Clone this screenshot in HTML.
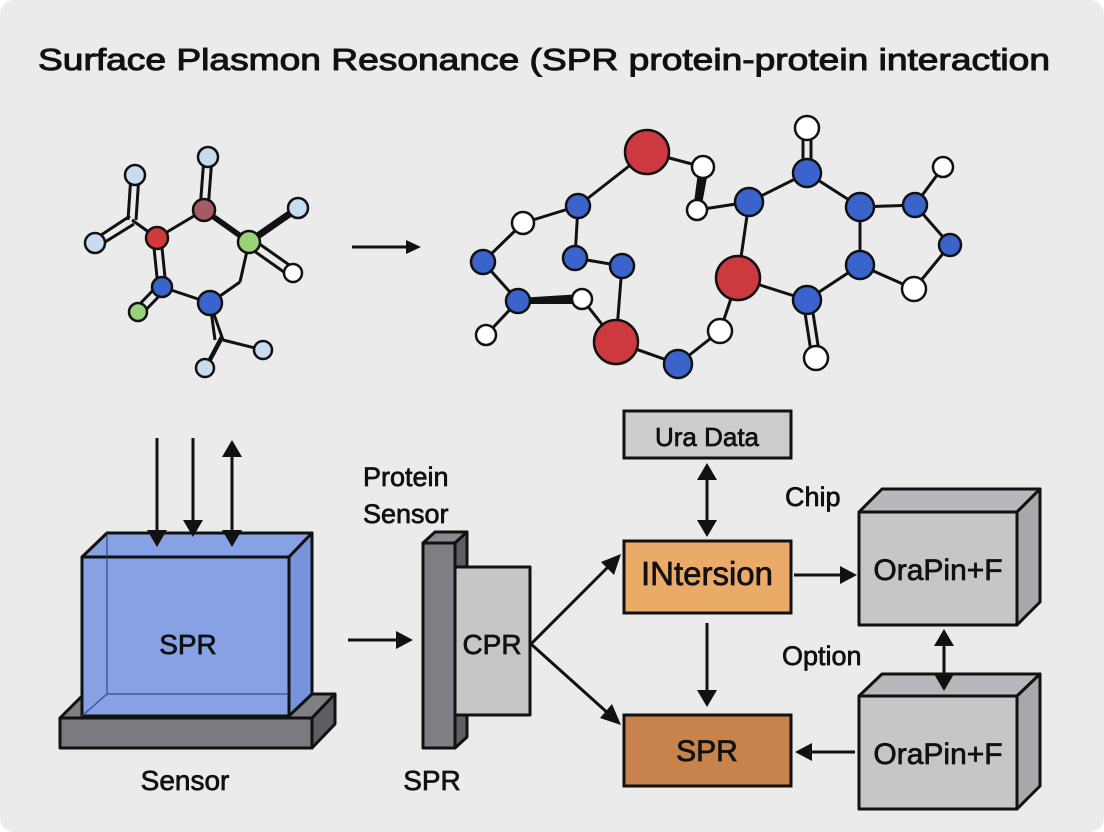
<!DOCTYPE html>
<html><head><meta charset="utf-8"><style>
html,body{margin:0;padding:0;background:#fff}
svg{display:block}
text{font-family:"Liberation Sans",sans-serif;fill:#111;stroke:#111;stroke-width:0.7px}
</style></head><body>
<svg width="1104" height="832" viewBox="0 0 1104 832" xmlns="http://www.w3.org/2000/svg">
<rect x="0" y="0" width="1104" height="832" rx="14" fill="#ebebeb"/>
<text x="38" y="70" font-size="31" style="stroke-width:1px" textLength="1012" lengthAdjust="spacingAndGlyphs">Surface Plasmon Resonance (SPR protein-protein interaction</text>

<!-- left molecule -->
<g stroke="#111" stroke-width="3" fill="none">
<line x1="204" y1="157" x2="200" y2="210"/><line x1="212" y1="157" x2="208" y2="210"/>
<line x1="131" y1="175" x2="128" y2="220"/><line x1="139" y1="175" x2="136" y2="220"/>
<line x1="95" y1="239" x2="130" y2="216"/><line x1="97" y1="247" x2="134" y2="224"/>
<line x1="132" y1="220" x2="157" y2="238"/>
<line x1="157" y1="238" x2="204" y2="210"/>
<line x1="202" y1="207" x2="247" y2="239"/><line x1="206" y1="213" x2="251" y2="245"/>
<line x1="249" y1="242" x2="298" y2="208" stroke-width="7"/>
<line x1="247" y1="246" x2="291" y2="277"/><line x1="251" y1="238" x2="295" y2="269"/>
<line x1="249" y1="242" x2="240" y2="282"/><line x1="240" y1="282" x2="210" y2="303"/>
<line x1="153" y1="238" x2="158" y2="287"/><line x1="161" y1="238" x2="166" y2="287"/>
<line x1="159" y1="284" x2="135" y2="309"/><line x1="165" y1="290" x2="141" y2="315"/>
<line x1="162" y1="287" x2="210" y2="303"/>
<line x1="210" y1="303" x2="223" y2="340"/><line x1="210" y1="303" x2="215" y2="340"/>
<line x1="223" y1="340" x2="263" y2="350"/>
</g>
<polygon points="223,340 220,336 203,368 208,368" fill="#111"/>
<g stroke="#111" stroke-width="2.5">
<circle cx="208" cy="157" r="10" fill="#c8dcf0"/>
<circle cx="135" cy="175" r="10" fill="#c8dcf0"/>
<circle cx="95" cy="243" r="10" fill="#c8dcf0"/>
<circle cx="298" cy="208" r="10" fill="#c8dcf0"/>
<circle cx="293" cy="273" r="9" fill="#fff"/>
<circle cx="204" cy="210" r="11" fill="#a85a64"/>
<circle cx="157" cy="238" r="11" fill="#d03a3a"/>
<circle cx="249" cy="242" r="11" fill="#9ad27a"/>
<circle cx="162" cy="287" r="10" fill="#3a64cc"/>
<circle cx="138" cy="312" r="9" fill="#9ad27a"/>
<circle cx="210" cy="303" r="12" fill="#3a64cc"/>
<circle cx="263" cy="350" r="9" fill="#c8dcf0"/>
<circle cx="205" cy="368" r="9" fill="#c8dcf0"/>
</g>

<line x1="352" y1="247" x2="408" y2="247" stroke="#111" stroke-width="3"/>
<polygon points="406,240 421,247 406,254" fill="#111"/>

<!-- right molecule -->
<g stroke="#111" stroke-width="3" fill="none">
<line x1="647" y1="152" x2="578" y2="206"/>
<line x1="647" y1="152" x2="703" y2="167"/>
<line x1="697" y1="210" x2="749" y2="202"/>
<line x1="578" y1="206" x2="523" y2="223"/>
<line x1="523" y1="223" x2="483" y2="262"/>
<line x1="483" y1="262" x2="518" y2="301"/>
<line x1="518" y1="301" x2="486" y2="335"/>
<line x1="582" y1="299" x2="616" y2="342"/>
<line x1="578" y1="206" x2="575" y2="258"/>
<line x1="575" y1="258" x2="622" y2="266"/>
<line x1="622" y1="266" x2="616" y2="342"/>
<line x1="616" y1="342" x2="678" y2="364"/>
<line x1="678" y1="364" x2="720" y2="331"/>
<line x1="720" y1="331" x2="738" y2="278"/>
<line x1="738" y1="278" x2="749" y2="202"/>
<line x1="738" y1="278" x2="807" y2="300"/>
<line x1="749" y1="202" x2="807" y2="173"/>
<line x1="803" y1="128" x2="803" y2="173"/><line x1="811" y1="128" x2="811" y2="173"/>
<line x1="807" y1="173" x2="860" y2="207"/>
<line x1="860" y1="207" x2="915" y2="205"/>
<line x1="915" y1="205" x2="943" y2="167"/>
<line x1="915" y1="205" x2="950" y2="245"/>
<line x1="950" y1="245" x2="914" y2="289"/>
<line x1="914" y1="289" x2="860" y2="265"/>
<line x1="860" y1="207" x2="860" y2="265"/>
<line x1="860" y1="265" x2="807" y2="300"/>
<line x1="803" y1="300" x2="812" y2="358"/><line x1="811" y1="300" x2="820" y2="358"/>
</g>
<polygon points="698,172 708,172 701,210 693,210" fill="#111"/>
<polygon points="518,298 582,294 582,304 518,304" fill="#111"/>
<g stroke="#111" stroke-width="2.5">
<circle cx="647" cy="152" r="22" fill="#cc3a40"/>
<circle cx="703" cy="167" r="11" fill="#fff"/>
<circle cx="697" cy="210" r="10" fill="#fff"/>
<circle cx="578" cy="206" r="12" fill="#3a64cc"/>
<circle cx="523" cy="223" r="11" fill="#fff"/>
<circle cx="483" cy="262" r="12" fill="#3a64cc"/>
<circle cx="575" cy="258" r="12" fill="#3a64cc"/>
<circle cx="622" cy="266" r="12" fill="#3a64cc"/>
<circle cx="518" cy="301" r="12" fill="#3a64cc"/>
<circle cx="582" cy="299" r="10" fill="#fff"/>
<circle cx="486" cy="335" r="10" fill="#fff"/>
<circle cx="616" cy="342" r="22" fill="#cc3a40"/>
<circle cx="678" cy="364" r="14" fill="#3a64cc"/>
<circle cx="720" cy="331" r="12" fill="#fff"/>
<circle cx="738" cy="278" r="22" fill="#cc3a40"/>
<circle cx="749" cy="202" r="14" fill="#3a64cc"/>
<circle cx="807" cy="173" r="14" fill="#3a64cc"/>
<circle cx="807" cy="128" r="12" fill="#fff"/>
<circle cx="860" cy="207" r="14" fill="#3a64cc"/>
<circle cx="915" cy="205" r="12" fill="#3a64cc"/>
<circle cx="943" cy="167" r="10" fill="#fff"/>
<circle cx="950" cy="245" r="11" fill="#3a64cc"/>
<circle cx="914" cy="289" r="12" fill="#fff"/>
<circle cx="860" cy="265" r="14" fill="#3a64cc"/>
<circle cx="807" cy="300" r="14" fill="#3a64cc"/>
<circle cx="816" cy="358" r="12" fill="#fff"/>
</g>

<!-- SPR block -->
<g stroke="#111" stroke-width="3" stroke-linejoin="round">
<polygon points="60,718 84,694 335,694 312,718" fill="#7e7e84"/>
<polygon points="312,718 335,694 335,724 312,748" fill="#5e5e64"/>
<rect x="60" y="718" width="252" height="30" fill="#7a7a80"/>
<polygon points="82,557 107,533 312,533 289,557" fill="#86a2e4"/>
<polygon points="289,557 312,533 312,694 289,716" fill="#7594dc"/>
<rect x="82" y="557" width="207" height="159" fill="#86a2e4"/>
</g>
<g stroke="#2a3c78" stroke-width="1.5" fill="none" opacity="0.7">
<line x1="107" y1="533" x2="107" y2="694"/><line x1="107" y1="694" x2="82" y2="716"/><line x1="107" y1="694" x2="289" y2="694"/>
</g>
<g stroke="#111" stroke-width="3">
<line x1="157" y1="438" x2="157" y2="532"/>
<line x1="193" y1="438" x2="193" y2="522"/>
<line x1="232" y1="455" x2="232" y2="532"/>
</g>
<polygon points="147,530 167,530 157,547" fill="#111"/>
<polygon points="183,520 203,520 193,537" fill="#111"/>
<polygon points="222,530 242,530 232,547" fill="#111"/>
<polygon points="222,457 242,457 232,440" fill="#111"/>
<text x="188" y="654" font-size="28" text-anchor="middle">SPR</text>
<text x="185" y="790" font-size="28" text-anchor="middle">Sensor</text>

<line x1="348" y1="640" x2="398" y2="640" stroke="#111" stroke-width="3"/>
<polygon points="396,631 413,640 396,649" fill="#111"/>

<text x="363" y="486" font-size="27">Protein</text>
<text x="363" y="523" font-size="27">Sensor</text>
<g stroke="#111" stroke-width="3" stroke-linejoin="round">
<polygon points="423,543 435,532 467,532 455,543" fill="#8a8a90"/>
<polygon points="455,543 467,532 467,737 455,748" fill="#5e5e64"/>
<rect x="455" y="567" width="75" height="148" fill="#c6c6c8"/>
<rect x="423" y="543" width="32" height="205" fill="#7e7e84"/>
</g>
<text x="492" y="654" font-size="28" text-anchor="middle">CPR</text>
<text x="432" y="790" font-size="28" text-anchor="middle">SPR</text>

<g stroke="#111" stroke-width="3">
<line x1="531" y1="644" x2="610" y2="565"/>
<line x1="531" y1="644" x2="610" y2="715"/>
</g>
<polygon points="621,554 614,575 601,562" fill="#111"/>
<polygon points="621,725 600,718 612,704" fill="#111"/>

<g stroke="#111" stroke-width="3">
<rect x="624" y="411" width="167" height="47" fill="#cdcdd0"/>
<rect x="624" y="541" width="167" height="72" fill="#eaaa68"/>
<rect x="624" y="715" width="167" height="71" fill="#c8824c"/>
</g>
<text x="707" y="446" font-size="26" text-anchor="middle">Ura Data</text>
<text x="707" y="585" font-size="33" text-anchor="middle">INtersion</text>
<text x="707" y="761" font-size="30" text-anchor="middle">SPR</text>

<line x1="707" y1="478" x2="707" y2="522" stroke="#111" stroke-width="3"/>
<polygon points="697,480 717,480 707,463" fill="#111"/>
<polygon points="697,520 717,520 707,537" fill="#111"/>
<line x1="707" y1="623" x2="707" y2="692" stroke="#111" stroke-width="3"/>
<polygon points="697,690 717,690 707,707" fill="#111"/>
<line x1="794" y1="575" x2="842" y2="575" stroke="#111" stroke-width="3"/>
<polygon points="840,566 857,575 840,584" fill="#111"/>
<line x1="855" y1="752" x2="810" y2="752" stroke="#111" stroke-width="3"/>
<polygon points="812,743 795,752 812,761" fill="#111"/>

<text x="785" y="506" font-size="27">Chip</text>
<text x="782" y="665" font-size="27">Option</text>

<g stroke="#111" stroke-width="3" stroke-linejoin="round">
<polygon points="859,512 882,489 1040,489 1017,512" fill="#b8b8bc"/>
<polygon points="1017,512 1040,489 1040,602 1017,625" fill="#a8a8ac"/>
<rect x="859" y="512" width="158" height="113" fill="#c6c6c9"/>
<polygon points="859,696 882,674 1040,674 1017,696" fill="#b8b8bc"/>
<polygon points="1017,696 1040,674 1040,786 1017,809" fill="#a8a8ac"/>
<rect x="859" y="696" width="158" height="113" fill="#c6c6c9"/>
</g>
<text x="938" y="580" font-size="30" text-anchor="middle">OraPin+F</text>
<text x="938" y="764" font-size="30" text-anchor="middle">OraPin+F</text>

<line x1="944" y1="644" x2="944" y2="676" stroke="#111" stroke-width="3"/>
<polygon points="934,646 954,646 944,629" fill="#111"/>
<polygon points="934,674 954,674 944,691" fill="#111"/>
</svg>
</body></html>
